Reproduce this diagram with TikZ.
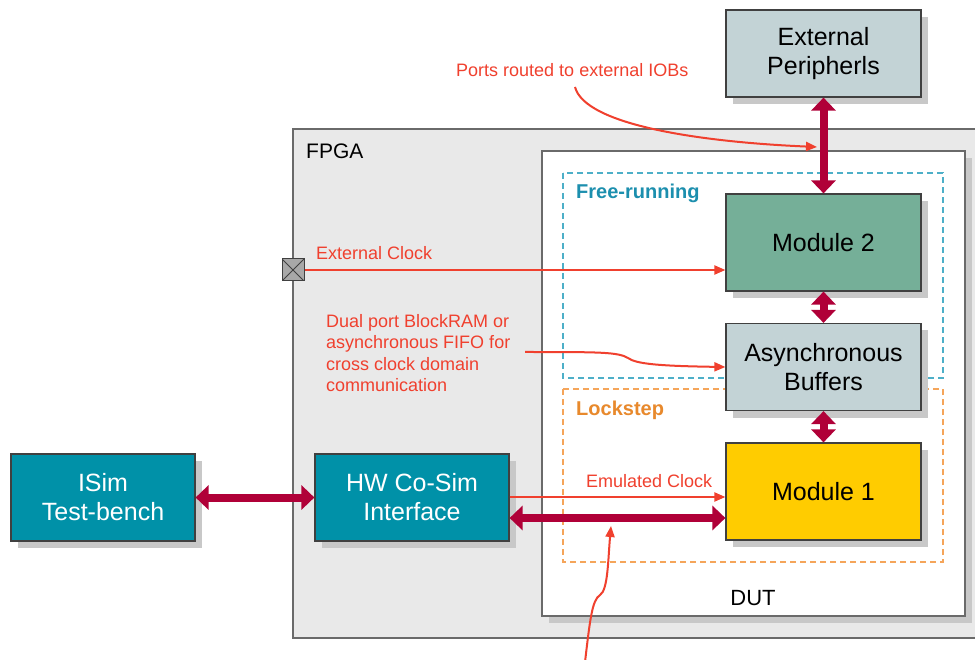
\documentclass[tikz,border=0pt]{standalone}
\usepackage{fontspec}
\setmainfont{Liberation Sans}
\usetikzlibrary{arrows.meta,shadows,calc}
\definecolor{fpgafill}{HTML}{E9E9E9}
\definecolor{frameline}{HTML}{6A6A6A}
\definecolor{boxborder}{HTML}{404040}
\definecolor{shadowgray}{HTML}{C8C8C8}
\definecolor{extfill}{HTML}{C3D3D6}
\definecolor{modtwo}{HTML}{75AF98}
\definecolor{modone}{HTML}{FFCC00}
\definecolor{tealfill}{HTML}{0091A8}
\definecolor{crimson}{HTML}{B00038}
\definecolor{annored}{HTML}{F0402E}
\definecolor{tealdash}{HTML}{4DAFC8}
\definecolor{orangedash}{HTML}{F5A55A}
\definecolor{tealtext}{HTML}{1C8FAE}
\definecolor{orangetext}{HTML}{E8892C}
\definecolor{portfill}{HTML}{A8A8A8}
\begin{document}
\begin{tikzpicture}[x=1pt,y=-1pt,
  box/.style={draw=boxborder, line width=1.2pt, minimum width=195pt, minimum height=87pt,
    inner sep=0pt, align=center, font=\fontsize{25}{29}\selectfont,
    drop shadow={shadow xshift=7pt, shadow yshift=-7pt, fill=shadowgray, opacity=1}},
  bigarrow/.style={draw=crimson, line width=8pt,
    {Triangle[width=24pt,length=13pt]}-{Triangle[width=24pt,length=13pt]}},
  redarrow/.style={draw=annored, line width=2pt, -{Triangle[width=9pt,length=11pt]}},
  anno/.style={text=annored, font=\fontsize{18}{21.3}\selectfont, inner sep=0pt, align=left},
  domainlbl/.style={font=\bfseries\fontsize{20}{22}\selectfont, inner sep=0pt},
  plainlbl/.style={font=\fontsize{21}{24}\selectfont, inner sep=0pt}
]
\useasboundingbox (0,0) rectangle (975,660);
\clip (0,0) rectangle (975,660);
\fill[white] (0,0) rectangle (975,660);

% FPGA region
\draw[frameline, fill=fpgafill, line width=1.2pt] (293,129) rectangle (990,638);
\node[plainlbl, anchor=west] (fpgalbl) at (306,151) {FPGA};

% DUT region
\fill[shadowgray] (549,158) rectangle (972,623);
\draw[frameline, fill=white, line width=1.2pt] (542,151) rectangle (965,616);
\node[plainlbl, font=\fontsize{22}{24}\selectfont] (dutlbl) at (753,598) {DUT};

% clock domains
\draw[tealdash, dash pattern=on 6pt off 4pt, line width=1.5pt] (563,173) rectangle (943,378);
\draw[orangedash, dash pattern=on 6pt off 4pt, line width=1.5pt] (563,389) rectangle (943,562);
\node[domainlbl, text=tealtext, anchor=west] (freelbl) at (576,193) {Free-running};
\node[domainlbl, text=orangetext, anchor=west] (locklbl) at (576,410) {Lockstep};

% boxes
\node[box, fill=extfill] (ext) at (823.5,53.5) {External\\Peripherls};
\node[box, fill=modtwo, minimum height=97pt] (mod2) at (823.5,242.5) {Module 2};
\node[box, fill=extfill] (async) at (823.5,367) {Asynchronous\\Buffers};
\node[box, fill=modone, minimum height=97pt] (mod1) at (823.5,491.5) {Module 1};
\node[box, fill=tealfill, text=white, minimum width=184pt] (isim) at (103,497.5) {ISim\\Test-bench};
\node[box, fill=tealfill, text=white, minimum width=194pt] (hw) at (412,497.5) {HW Co-Sim\\Interface};

% port
\node[draw=boxborder, fill=portfill, line width=1pt, minimum size=22pt, inner sep=0pt,
  path picture={\draw[boxborder, line width=0.8pt]
    (path picture bounding box.south west) -- (path picture bounding box.north east)
    (path picture bounding box.north west) -- (path picture bounding box.south east);}]
  (port) at (293,270) {};

% thick buses
\draw[bigarrow] (ext.south) -- (mod2.north);
\draw[bigarrow] (mod2.south) -- (async.north);
\draw[bigarrow] (async.south) -- (mod1.north);
\draw[bigarrow] (isim.east) -- (hw.west);
\coordinate (busy) at (0,518);
\draw[bigarrow] (hw.east |- busy) -- (mod1.west |- busy);

% clocks
\draw[redarrow] (port.east) -- (port.east -| mod2.west);
\node[anno, anchor=west] (extclk) at (316,253) {External Clock};
\coordinate (clky) at (0,497);
\draw[redarrow] (hw.east |- clky) -- (mod1.west |- clky);
\node[anno, anchor=west] (emuclk) at (586,481) {Emulated Clock};

% annotations
\node[anno, anchor=west] (portsnote) at (456,70) {Ports routed to external IOBs};
\coordinate (portstail) at (575,87);
\coordinate (portshit) at (817,147);
\draw[redarrow] (portstail) .. controls (585,125) and (700,142) .. (portshit);

\node[anno, anchor=west] (dualnote) at (326,353) {Dual port BlockRAM or\\asynchronous FIFO for\\cross clock domain\\communication};
\coordinate (dualtail) at (525,352);
\draw[redarrow] (dualtail) .. controls (600,352) and (618,352) .. (628,358)
  .. controls (636,364) and (660,366) .. (async.west);

\coordinate (bottomtail) at (585,662);
\coordinate (bottomhit) at (611,526);
\draw[redarrow] (bottomtail) .. controls (590,620) and (592,600) .. (600,595)
  .. controls (608,590) and (608,560) .. (bottomhit);
\end{tikzpicture}
\end{document}
